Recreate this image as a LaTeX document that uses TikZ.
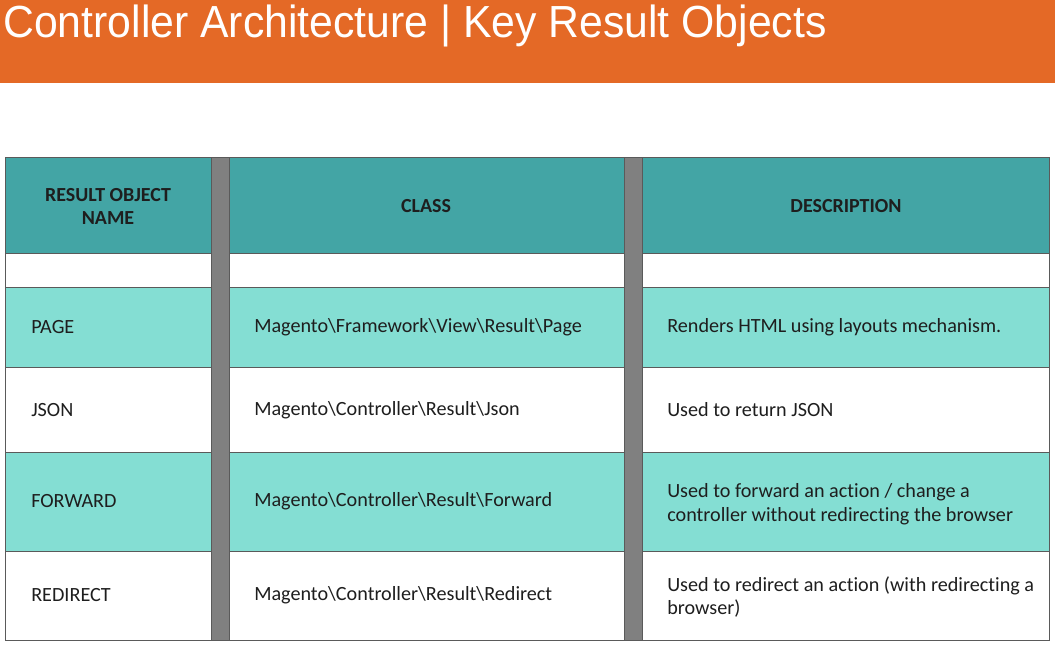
\documentclass[tikz,border=0pt]{standalone}
\usepackage{fontspec}
\setmainfont[Ligatures=NoCommon]{Carlito}
\newfontfamily\titlefont[FakeStretch=0.95]{Liberation Sans}
\usetikzlibrary{positioning}
\definecolor{bandorange}{RGB}{228,105,38}
\definecolor{headteal}{RGB}{67,165,165}
\definecolor{rowteal}{RGB}{132,222,211}
\definecolor{sepgray}{RGB}{128,128,128}
\definecolor{cellline}{RGB}{90,90,90}
\definecolor{celltext}{RGB}{30,30,30}

\begin{document}
\begin{tikzpicture}[
  cell/.style={draw=cellline, line width=0.6pt},
  headtext/.style={font=\fontsize{14.2}{16.4}\selectfont\bfseries, text=celltext, align=center},
  bodytext/.style={font=\fontsize{14.35}{17}\selectfont, text=celltext, anchor=west, align=left, inner sep=0pt}
]
\useasboundingbox (0,0) rectangle (26.375,16.125);
% title band
\fill[bandorange] (0,14.05) rectangle (26.375,16.125);
\node[anchor=base west, text=white, inner sep=0pt] (title) at (0.075,15.18) {\titlefont\fontsize{32}{36}\selectfont Controller Architecture | Key Result Objects};

% gray separators
\draw[cell, fill=sepgray] (5.275,0.125) rectangle (5.725,12.2);
\draw[cell, fill=sepgray] (15.6,0.125) rectangle (16.05,12.2);

% header row
\draw[cell, fill=headteal] (0.125,9.8) rectangle (5.275,12.2);
\draw[cell, fill=headteal] (5.725,9.8) rectangle (15.6,12.2);
\draw[cell, fill=headteal] (16.05,9.8) rectangle (26.225,12.2);
% empty row
\draw[cell, fill=white] (0.125,8.95) rectangle (5.275,9.8);
\draw[cell, fill=white] (5.725,8.95) rectangle (15.6,9.8);
\draw[cell, fill=white] (16.05,8.95) rectangle (26.225,9.8);
% page
\draw[cell, fill=rowteal] (0.125,6.95) rectangle (5.275,8.95);
\draw[cell, fill=rowteal] (5.725,6.95) rectangle (15.6,8.95);
\draw[cell, fill=rowteal] (16.05,6.95) rectangle (26.225,8.95);
% json
\draw[cell, fill=white] (0.125,4.825) rectangle (5.275,6.95);
\draw[cell, fill=white] (5.725,4.825) rectangle (15.6,6.95);
\draw[cell, fill=white] (16.05,4.825) rectangle (26.225,6.95);
% forward
\draw[cell, fill=rowteal] (0.125,2.35) rectangle (5.275,4.825);
\draw[cell, fill=rowteal] (5.725,2.35) rectangle (15.6,4.825);
\draw[cell, fill=rowteal] (16.05,2.35) rectangle (26.225,4.825);
% redirect
\draw[cell, fill=white] (0.125,0.125) rectangle (5.275,2.35);
\draw[cell, fill=white] (5.725,0.125) rectangle (15.6,2.35);
\draw[cell, fill=white] (16.05,0.125) rectangle (26.225,2.35);

% header texts
\node[headtext] (hname) at (2.7,10.97) {RESULT OBJECT\\NAME};
\node[headtext] (hclass) at (10.65,10.97) {CLASS};
\node[headtext] (hdesc) at (21.15,10.97) {DESCRIPTION};

% names
\node[bodytext] (page) at (0.775,7.95) {PAGE};
\node[bodytext] (json) at (0.775,5.875) {JSON};
\node[bodytext] (forward) at (0.775,3.6) {FORWARD};
\node[bodytext] (redirect) at (0.775,1.25) {REDIRECT};

% classes
\node[bodytext] (pageclass) at (6.35,7.95) {Magento\textbackslash Framework\textbackslash View\textbackslash Result\textbackslash Page};
\node[bodytext] (jsonclass) at (6.35,5.875) {Magento\textbackslash Controller\textbackslash Result\textbackslash Json};
\node[bodytext] (forwardclass) at (6.35,3.6) {Magento\textbackslash Controller\textbackslash Result\textbackslash Forward};
\node[bodytext] (redirectclass) at (6.35,1.25) {Magento\textbackslash Controller\textbackslash Result\textbackslash Redirect};

% descriptions
\node[bodytext] (pagedesc) at (16.675,7.95) {Renders HTML using layouts mechanism.};
\node[bodytext] (jsondesc) at (16.675,5.875) {Used to return JSON};
\node[bodytext] (forwarddesc) at (16.675,3.53) {Used to forward an action / change a\\controller without redirecting the browser};
\node[bodytext] (redirectdesc) at (16.675,1.2) {Used to redirect an action (with redirecting a\\browser)};
\end{tikzpicture}
\end{document}
